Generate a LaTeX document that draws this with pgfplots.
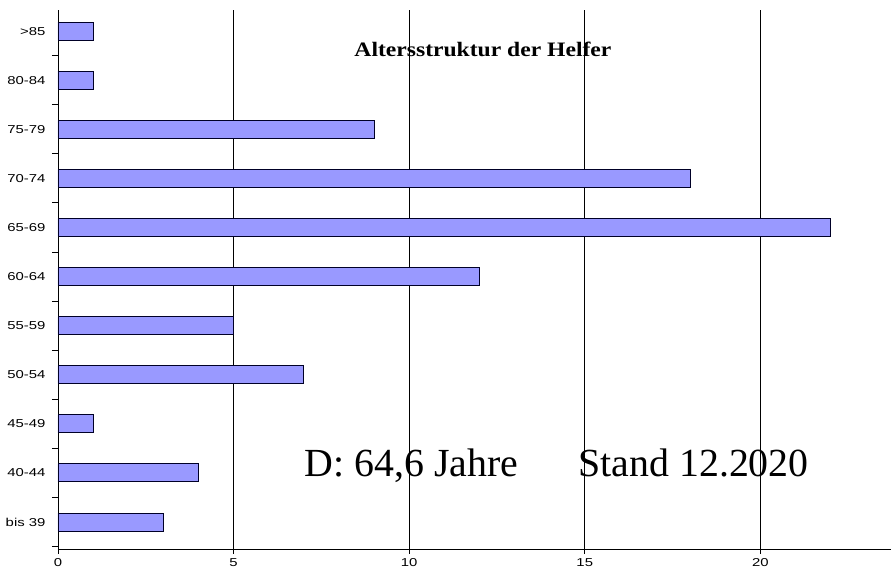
\documentclass[border=0pt]{standalone}
\usepackage{fontspec}
\setmainfont{Liberation Serif}
\setsansfont{Liberation Sans}
\newfontfamily\ticksf[FakeStretch=1.3]{Liberation Sans}
\newfontfamily\titlefont[FakeStretch=1.15]{Liberation Serif}
\usepackage{pgfplots}
\pgfplotsset{compat=1.18}
\definecolor{barfill}{RGB}{153,153,255}
\begin{document}
\begin{tikzpicture}
\begin{axis}[
  scale only axis,
  width=833bp, height=539bp,
  xmin=0, xmax=23.72,
  ymin=-0.55, ymax=10.43,
  enlargelimits=false,
  axis x line*=bottom, axis y line*=left,
  axis line style={black, line width=0.9bp},
  xtick={0,5,10,15,20},
  ytick={0,...,10},
  yticklabels={bis 39,40-44,45-49,50-54,55-59,60-64,65-69,70-74,75-79,80-84,>85},
  minor ytick={-0.5,0.5,...,9.5},
  major y tick style={draw=none},
  tick align=outside,
  major tick length=5bp, minor tick length=6bp,
  tick style={black, line width=0.9bp},
  xmajorgrids, grid style={black, line width=0.9bp},
  tick label style={font=\ticksf\fontsize{11.5}{11.5}\selectfont},
  /pgf/number format/assume math mode=true,
  yticklabel style={xshift=-4bp},
  xticklabel style={yshift=-1bp},
  xbar, bar width=18bp,
]
\addplot[fill=barfill, draw=black!85!blue, line width=0.9bp] coordinates {
  (3,0) (4,1) (1,2) (7,3) (5,4) (12,5) (22,6) (18,7) (9,8) (1,9) (1,10)
};
\node[font=\titlefont\bfseries\fontsize{20.6}{20.6}\selectfont] at (axis cs:12.1,9.63) {Altersstruktur der Helfer};
\node[font=\fontsize{40}{40}\selectfont, anchor=base] at (axis cs:10.07,0.92) {D: 64,6 Jahre};
\node[font=\fontsize{40}{40}\selectfont, anchor=base] at (axis cs:18.1,0.92) {Stand 12.2020};
\coordinate (bl) at (rel axis cs:0,0);
\coordinate (tr) at (rel axis cs:1,1);
\end{axis}
\pgfresetboundingbox
\path ([shift={(-58bp,-22bp)}]bl) rectangle ([shift={(0bp,10bp)}]tr);
\end{tikzpicture}
\end{document}
